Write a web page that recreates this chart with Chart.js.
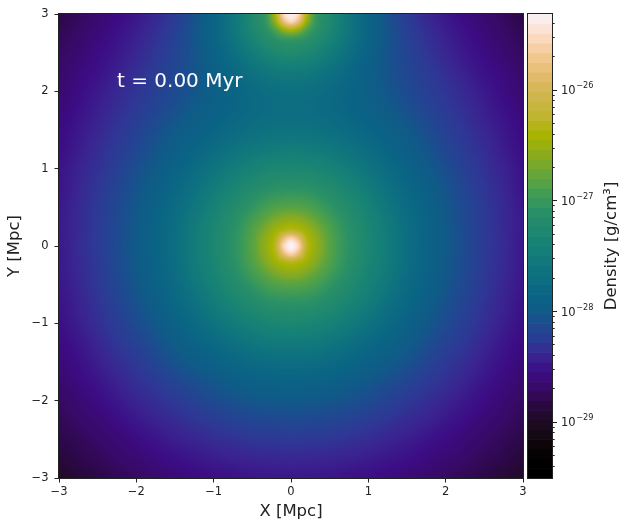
<!DOCTYPE html>
<html>
<head>
<meta charset="utf-8">
<script src="https://cdn.jsdelivr.net/npm/chart.js@4/dist/chart.umd.min.js"></script>
<style>
html,body{margin:0;padding:0;background:#fff;}
#wrap{position:relative;width:632px;height:530px;}
#wrap canvas{position:absolute;left:0;top:0;}
</style>
</head>
<body>
<div id="wrap">
<canvas id="mainChart" width="632" height="530"></canvas>
<canvas id="cbarChart" width="632" height="530"></canvas>
</div>
<script>
// ---------------- data ----------------
// coarse map: log10 density [g/cm^3], rows from y = 3 (top) to y = -3, columns x = -3 .. 3
const xCoords = [-3,-2.75,-2.5,-2.25,-2,-1.75,-1.5,-1.25,-1,-0.75,-0.5,-0.25,0,0.25,0.5,0.75,1,1.25,1.5,1.75,2,2.25,2.5,2.75,3];
const yCoords = [3,2.75,2.5,2.25,2,1.75,1.5,1.25,1,0.75,0.5,0.25,0,-0.25,-0.5,-0.75,-1,-1.25,-1.5,-1.75,-2,-2.25,-2.5,-2.75,-3];
const logDensity = [
[-28.82,-28.74,-28.65,-28.57,-28.48,-28.38,-28.25,-28.08,-27.86,-27.58,-27.23,-26.70,-25.36,-26.70,-27.23,-27.58,-27.86,-28.08,-28.25,-28.38,-28.48,-28.57,-28.65,-28.74,-28.82],
[-28.77,-28.69,-28.61,-28.52,-28.43,-28.33,-28.21,-28.05,-27.86,-27.60,-27.31,-27.03,-26.70,-27.03,-27.31,-27.60,-27.86,-28.05,-28.21,-28.33,-28.43,-28.52,-28.61,-28.69,-28.77],
[-28.72,-28.65,-28.56,-28.48,-28.39,-28.29,-28.18,-28.06,-27.90,-27.70,-27.49,-27.30,-27.21,-27.30,-27.49,-27.70,-27.90,-28.06,-28.18,-28.29,-28.39,-28.48,-28.56,-28.65,-28.72],
[-28.68,-28.59,-28.52,-28.43,-28.34,-28.25,-28.16,-28.06,-27.94,-27.80,-27.66,-27.55,-27.51,-27.55,-27.66,-27.80,-27.94,-28.06,-28.16,-28.25,-28.34,-28.43,-28.52,-28.59,-28.68],
[-28.65,-28.56,-28.47,-28.38,-28.30,-28.22,-28.13,-28.04,-27.94,-27.85,-27.76,-27.70,-27.68,-27.70,-27.76,-27.85,-27.94,-28.04,-28.13,-28.22,-28.30,-28.38,-28.47,-28.56,-28.65],
[-28.61,-28.52,-28.43,-28.34,-28.26,-28.17,-28.08,-27.99,-27.91,-27.84,-27.77,-27.73,-27.72,-27.73,-27.77,-27.84,-27.91,-27.99,-28.08,-28.17,-28.26,-28.34,-28.43,-28.52,-28.61],
[-28.57,-28.48,-28.39,-28.30,-28.21,-28.11,-28.01,-27.92,-27.84,-27.76,-27.70,-27.65,-27.64,-27.65,-27.70,-27.76,-27.84,-27.92,-28.01,-28.11,-28.21,-28.30,-28.39,-28.48,-28.57],
[-28.54,-28.45,-28.35,-28.26,-28.16,-28.05,-27.95,-27.85,-27.74,-27.64,-27.56,-27.50,-27.48,-27.50,-27.56,-27.64,-27.74,-27.85,-27.95,-28.05,-28.16,-28.26,-28.35,-28.45,-28.54],
[-28.51,-28.41,-28.32,-28.22,-28.10,-28.00,-27.88,-27.75,-27.62,-27.49,-27.38,-27.31,-27.29,-27.31,-27.38,-27.49,-27.62,-27.75,-27.88,-28.00,-28.10,-28.22,-28.32,-28.41,-28.51],
[-28.50,-28.39,-28.29,-28.18,-28.06,-27.94,-27.81,-27.66,-27.50,-27.34,-27.21,-27.11,-27.08,-27.11,-27.21,-27.34,-27.50,-27.66,-27.81,-27.94,-28.06,-28.18,-28.29,-28.39,-28.50],
[-28.47,-28.37,-28.27,-28.15,-28.03,-27.90,-27.75,-27.58,-27.39,-27.21,-27.04,-26.88,-26.82,-26.88,-27.04,-27.21,-27.39,-27.58,-27.75,-27.90,-28.03,-28.15,-28.27,-28.37,-28.47],
[-28.46,-28.37,-28.26,-28.14,-28.01,-27.87,-27.71,-27.52,-27.32,-27.12,-26.88,-26.60,-26.40,-26.60,-26.88,-27.12,-27.32,-27.52,-27.71,-27.87,-28.01,-28.14,-28.26,-28.37,-28.46],
[-28.47,-28.36,-28.26,-28.13,-28.00,-27.87,-27.70,-27.50,-27.30,-27.09,-26.82,-26.40,-25.32,-26.40,-26.82,-27.09,-27.30,-27.50,-27.70,-27.87,-28.00,-28.13,-28.26,-28.36,-28.47],
[-28.47,-28.37,-28.27,-28.14,-28.02,-27.88,-27.71,-27.52,-27.33,-27.12,-26.88,-26.60,-26.40,-26.60,-26.88,-27.12,-27.33,-27.52,-27.71,-27.88,-28.02,-28.14,-28.27,-28.37,-28.47],
[-28.48,-28.39,-28.28,-28.16,-28.04,-27.91,-27.76,-27.58,-27.40,-27.22,-27.04,-26.88,-26.82,-26.88,-27.04,-27.22,-27.40,-27.58,-27.76,-27.91,-28.04,-28.16,-28.28,-28.39,-28.48],
[-28.51,-28.41,-28.31,-28.19,-28.08,-27.96,-27.82,-27.67,-27.50,-27.35,-27.22,-27.12,-27.09,-27.12,-27.22,-27.35,-27.50,-27.67,-27.82,-27.96,-28.08,-28.19,-28.31,-28.41,-28.51],
[-28.53,-28.44,-28.34,-28.24,-28.13,-28.02,-27.90,-27.77,-27.64,-27.51,-27.40,-27.33,-27.30,-27.33,-27.40,-27.51,-27.64,-27.77,-27.90,-28.02,-28.13,-28.24,-28.34,-28.44,-28.53],
[-28.57,-28.49,-28.39,-28.29,-28.20,-28.09,-27.98,-27.88,-27.78,-27.68,-27.59,-27.53,-27.51,-27.53,-27.59,-27.68,-27.78,-27.88,-27.98,-28.09,-28.20,-28.29,-28.39,-28.49,-28.57],
[-28.61,-28.53,-28.44,-28.35,-28.27,-28.17,-28.07,-27.99,-27.91,-27.83,-27.77,-27.72,-27.71,-27.72,-27.77,-27.83,-27.91,-27.99,-28.07,-28.17,-28.27,-28.35,-28.44,-28.53,-28.61],
[-28.66,-28.58,-28.50,-28.41,-28.33,-28.26,-28.17,-28.10,-28.03,-27.97,-27.92,-27.89,-27.88,-27.89,-27.92,-27.97,-28.03,-28.10,-28.17,-28.26,-28.33,-28.41,-28.50,-28.58,-28.66],
[-28.71,-28.64,-28.56,-28.48,-28.40,-28.34,-28.27,-28.20,-28.13,-28.08,-28.04,-28.02,-28.01,-28.02,-28.04,-28.08,-28.13,-28.20,-28.27,-28.34,-28.40,-28.48,-28.56,-28.64,-28.71],
[-28.76,-28.69,-28.63,-28.55,-28.48,-28.41,-28.36,-28.30,-28.25,-28.20,-28.17,-28.15,-28.14,-28.15,-28.17,-28.20,-28.25,-28.30,-28.36,-28.41,-28.48,-28.55,-28.63,-28.69,-28.76],
[-28.81,-28.76,-28.69,-28.63,-28.56,-28.50,-28.44,-28.40,-28.35,-28.32,-28.29,-28.28,-28.27,-28.28,-28.29,-28.32,-28.35,-28.40,-28.44,-28.50,-28.56,-28.63,-28.69,-28.76,-28.81],
[-28.88,-28.81,-28.76,-28.69,-28.64,-28.58,-28.53,-28.49,-28.45,-28.42,-28.40,-28.39,-28.38,-28.39,-28.40,-28.42,-28.45,-28.49,-28.53,-28.58,-28.64,-28.69,-28.76,-28.81,-28.88],
[-28.95,-28.89,-28.82,-28.77,-28.72,-28.67,-28.62,-28.58,-28.54,-28.52,-28.49,-28.48,-28.48,-28.48,-28.49,-28.52,-28.54,-28.58,-28.62,-28.67,-28.72,-28.77,-28.82,-28.89,-28.95]
];
// finer maps around the two cluster cores (same units)
const coreXCoords = [-0.5,-0.4,-0.3,-0.2,-0.1,0,0.1,0.2,0.3,0.4,0.5];
const centralCoreYCoords = [0.5,0.4,0.3,0.2,0.1,0,-0.1,-0.2,-0.3,-0.4,-0.5];
const centralCoreLogDensity = [
[-27.05,-26.97,-26.91,-26.86,-26.83,-26.82,-26.83,-26.86,-26.91,-26.97,-27.05],
[-26.97,-26.89,-26.82,-26.73,-26.67,-26.65,-26.67,-26.73,-26.82,-26.89,-26.97],
[-26.91,-26.82,-26.69,-26.59,-26.52,-26.49,-26.52,-26.59,-26.69,-26.82,-26.91],
[-26.86,-26.73,-26.59,-26.46,-26.33,-26.25,-26.33,-26.46,-26.59,-26.73,-26.86],
[-26.83,-26.67,-26.52,-26.33,-25.85,-25.58,-25.85,-26.33,-26.52,-26.67,-26.83],
[-26.82,-26.65,-26.49,-26.25,-25.58,-25.32,-25.58,-26.25,-26.49,-26.65,-26.82],
[-26.83,-26.67,-26.52,-26.33,-25.85,-25.58,-25.85,-26.33,-26.52,-26.67,-26.83],
[-26.86,-26.73,-26.59,-26.46,-26.33,-26.25,-26.33,-26.46,-26.59,-26.73,-26.86],
[-26.91,-26.82,-26.69,-26.59,-26.52,-26.49,-26.52,-26.59,-26.69,-26.82,-26.91],
[-26.97,-26.89,-26.82,-26.73,-26.67,-26.65,-26.67,-26.73,-26.82,-26.89,-26.97],
[-27.05,-26.97,-26.91,-26.86,-26.83,-26.82,-26.83,-26.86,-26.91,-26.97,-27.05]
];
const topCoreYCoords = [3,2.9,2.8,2.7,2.6,2.5];
const topCoreLogDensity = [
[-27.23,-27.12,-26.92,-26.35,-25.55,-25.36,-25.55,-26.35,-26.92,-27.12,-27.23],
[-27.25,-27.14,-26.96,-26.52,-25.85,-25.55,-25.85,-26.52,-26.96,-27.14,-27.25],
[-27.29,-27.19,-27.05,-26.85,-26.52,-26.35,-26.52,-26.85,-27.05,-27.19,-27.29],
[-27.35,-27.23,-27.16,-27.05,-26.96,-26.92,-26.96,-27.05,-27.16,-27.23,-27.35],
[-27.43,-27.32,-27.23,-27.19,-27.14,-27.12,-27.14,-27.19,-27.23,-27.32,-27.43],
[-27.50,-27.43,-27.35,-27.29,-27.25,-27.23,-27.25,-27.29,-27.35,-27.43,-27.50]
];
const axisTicks = [-3,-2,-1,0,1,2,3];
const colorbarRange = [-29.509, -25.316];          // log10 density at bottom / top of colorbar
const colorbarMajorTicks = [-29,-28,-27,-26];
const colorbarTickBase = '10';
const colorbarTickExponents = ['\u221229','\u221228','\u221227','\u221226'];
const xTitle = 'X [Mpc]';
const yTitle = 'Y [Mpc]';
const colorbarTitle = 'Density [g/cm\u00b3]';
const timeLabel = 't = 0.00 Myr';
const timeLabelAt = [-2.25, 2.05];

// ---------------- style ----------------
const FONT = 'DejaVu Sans';
const INK = '#222222';
const colormapStops = [
 [-29.51,'#000000'],[-29.33,'#000000'],[-29.21,'#0c0508'],[-29.09,'#180a18'],[-28.97,'#200a26'],
 [-28.82,'#2c0848'],[-28.69,'#380a68'],[-28.55,'#3c0c84'],[-28.40,'#3a2490'],[-28.28,'#2e3895'],
 [-28.13,'#1e4a90'],[-28.01,'#105a88'],[-27.86,'#0a6485'],[-27.67,'#0e7080'],[-27.39,'#168276'],
 [-27.09,'#2a9066'],[-26.97,'#3c9a58'],[-26.79,'#5ea43e'],[-26.61,'#86aa22'],[-26.41,'#a8b400'],
 [-26.23,'#c0b530'],[-26.07,'#ceb64a'],[-25.93,'#dcb862'],[-25.80,'#eac07a'],[-25.69,'#f2c890'],
 [-25.59,'#f8d2ae'],[-25.49,'#fddecb'],[-25.41,'#fce8e2'],[-25.316,'#f7f4f7']
];
const NBANDS = 48;

function hexToRgb(h){return [parseInt(h.slice(1,3),16),parseInt(h.slice(3,5),16),parseInt(h.slice(5,7),16)];}
const stopsRgb = colormapStops.map(s => [s[0], hexToRgb(s[1])]);
function cmap(v){
  if (v <= stopsRgb[0][0]) return stopsRgb[0][1];
  for (let k=1;k<stopsRgb.length;k++){
    if (v <= stopsRgb[k][0]){
      const v0=stopsRgb[k-1][0], c0=stopsRgb[k-1][1], v1=stopsRgb[k][0], c1=stopsRgb[k][1];
      const t=(v-v0)/(v1-v0);
      return c0.map((c,i)=>Math.round(c+(c1[i]-c)*t));
    }
  }
  return stopsRgb[stopsRgb.length-1][1];
}
const vmin = colorbarRange[0], vmax = colorbarRange[1];
const bandStep = (vmax-vmin)/NBANDS;
const bandColors = Array.from({length:NBANDS},(_,k)=>cmap(vmin+(k+0.5)*bandStep));
function fmtTick(v){return v<0?'\u2212'+(-v):String(v);}

// Catmull-Rom (bicubic) rendering of a regular map
function cr(p0,p1,p2,p3,t){return p1+0.5*t*(p2-p0+t*(2*p0-5*p1+4*p2-p3+t*(3*(p1-p2)+p3-p0)));}
function sampleMap(grid, xc, yc, xv, yv){
  const nx=xc.length, ny=yc.length;
  const gx=(xv-xc[0])/(xc[1]-xc[0]), gy=(yv-yc[0])/(yc[1]-yc[0]);
  const i1=Math.max(0,Math.min(nx-2,Math.floor(gx))), j1=Math.max(0,Math.min(ny-2,Math.floor(gy)));
  const tx=Math.max(0,Math.min(1,gx-i1)), ty=Math.max(0,Math.min(1,gy-j1));
  const ci=k=>Math.max(0,Math.min(nx-1,k)), cj=k=>Math.max(0,Math.min(ny-1,k));
  const col=[];
  for (let m=-1;m<=2;m++){
    const r=grid[cj(j1+m)];
    col.push(cr(r[ci(i1-1)],r[i1],r[i1+1],r[ci(i1+2)],tx));
  }
  return cr(col[0],col[1],col[2],col[3],ty);
}
function fieldAt(xv, yv){
  let v = sampleMap(logDensity, xCoords, yCoords, xv, yv);
  const ax = Math.abs(xv);
  if (ax <= 0.5 && Math.abs(yv) <= 0.5){
    const w = Math.max(0,Math.min(1,(0.5-Math.max(ax,Math.abs(yv)))/0.1));
    const f = sampleMap(centralCoreLogDensity, coreXCoords, centralCoreYCoords, xv, yv);
    v = v*(1-w) + f*w;
  } else if (ax <= 0.5 && yv >= 2.5){
    const w = Math.max(0,Math.min(1,Math.min(0.5-ax, yv-2.5)/0.1));
    const f = sampleMap(topCoreLogDensity, coreXCoords, topCoreYCoords, xv, yv);
    v = v*(1-w) + f*w;
  }
  return v;
}

// ---------------- density map plugin ----------------
const densityMapPlugin = {
  id:'densityMap',
  beforeDatasetsDraw(chart){
    const {ctx, chartArea:a, scales} = chart;
    const xs = scales.x, ys = scales.y;
    const dpr = chart.currentDevicePixelRatio || 1;
    const W = Math.round((a.right-a.left)*dpr), H = Math.round((a.bottom-a.top)*dpr);
    const off = document.createElement('canvas'); off.width=W; off.height=H;
    const octx = off.getContext('2d');
    const img = octx.createImageData(W,H);
    for (let py=0; py<H; py++){
      const yv = ys.getValueForPixel(a.top+(py+0.5)/dpr);
      for (let px=0; px<W; px++){
        const xv = xs.getValueForPixel(a.left+(px+0.5)/dpr);
        const c = cmap(Math.max(vmin, Math.min(vmax, fieldAt(xv,yv))));
        const p = (py*W+px)*4;
        img.data[p]=c[0]; img.data[p+1]=c[1]; img.data[p+2]=c[2]; img.data[p+3]=255;
      }
    }
    octx.putImageData(img,0,0);
    ctx.save();
    ctx.drawImage(off, a.left, a.top, a.right-a.left, a.bottom-a.top);
    ctx.restore();
  },
  afterDraw(chart){
    const {ctx, chartArea:a, scales} = chart;
    ctx.save();
    ctx.strokeStyle = INK; ctx.lineWidth = 1;
    ctx.strokeRect(a.left-0.5, a.top-0.5, a.right-a.left+1, a.bottom-a.top+1);
    ctx.fillStyle = '#ffffff';
    ctx.font = '20px "' + FONT + '"';
    ctx.textAlign = 'left'; ctx.textBaseline = 'alphabetic';
    ctx.fillText(timeLabel, scales.x.getPixelForValue(timeLabelAt[0]), scales.y.getPixelForValue(timeLabelAt[1]));
    ctx.restore();
  }
};

const gridPoints = [];
yCoords.forEach((yv,j)=>xCoords.forEach((xv,i)=>gridPoints.push({x:xv,y:yv,v:logDensity[j][i]})));

const axisCommon = {
  type:'linear', min:-3, max:3,
  grid:{drawOnChartArea:false, drawTicks:true, tickLength:4.5, color:INK, tickWidth:1},
  border:{display:false},
};

new Chart(document.getElementById('mainChart'), {
  type:'scatter',
  data:{datasets:[{label:'log10 density', data:gridPoints, pointRadius:0, pointHoverRadius:0}]},
  options:{
    responsive:false, animation:false, events:[],
    layout:{padding:{left:0, top:14, right:109, bottom:0}},
    plugins:{legend:{display:false}, tooltip:{enabled:false}},
    scales:{
      x:Object.assign({}, axisCommon, {
        position:'bottom',
        afterBuildTicks:s=>{s.ticks = axisTicks.map(v=>({value:v}));},
        ticks:{callback:fmtTick, color:INK, font:{family:FONT, size:11.5}, padding:3, maxRotation:0, autoSkip:false},
        title:{display:true, text:xTitle, color:INK, font:{family:FONT, size:16.5}, padding:{top:0, bottom:8}},
        afterFit:s=>{s.height = 52;}
      }),
      y:Object.assign({}, axisCommon, {
        position:'left',
        afterBuildTicks:s=>{s.ticks = axisTicks.map(v=>({value:v}));},
        ticks:{callback:fmtTick, color:INK, font:{family:FONT, size:11.5}, padding:6, autoSkip:false},
        title:{display:true, text:yTitle, color:INK, font:{family:FONT, size:16.5}, padding:{top:5, bottom:0}},
        afterFit:s=>{s.width = 59;}
      })
    }
  },
  plugins:[densityMapPlugin]
});

// ---------------- colorbar ----------------
const colorbarPlugin = {
  id:'colorbar',
  afterDraw(chart){
    const {ctx, chartArea:a, scales} = chart;
    const s = scales.y;
    ctx.save();
    for (let k=0;k<NBANDS;k++){
      const y0 = s.getPixelForValue(vmin+k*bandStep), y1 = s.getPixelForValue(vmin+(k+1)*bandStep);
      const c = bandColors[k];
      ctx.fillStyle = 'rgb('+c[0]+','+c[1]+','+c[2]+')';
      ctx.fillRect(a.left, y1, a.right-a.left, (y0-y1)+0.6);
    }
    ctx.strokeStyle = INK; ctx.lineWidth = 1;
    ctx.strokeRect(a.left-0.5, a.top-0.5, a.right-a.left+1, a.bottom-a.top+1);
    ctx.beginPath();
    for (let n=-30;n<=-26;n++){
      for (let m=2;m<=9;m++){
        const v = n+Math.log10(m);
        if (v>vmin && v<vmax){
          const y = Math.round(s.getPixelForValue(v))+0.5;
          ctx.moveTo(a.right, y); ctx.lineTo(a.right+2.7, y);
        }
      }
    }
    colorbarMajorTicks.forEach(v=>{
      const y = Math.round(s.getPixelForValue(v))+0.5;
      ctx.moveTo(a.right, y); ctx.lineTo(a.right+5, y);
    });
    ctx.stroke();
    ctx.fillStyle = INK;
    ctx.textAlign = 'left'; ctx.textBaseline = 'alphabetic';
    colorbarMajorTicks.forEach((v,k)=>{
      const y = s.getPixelForValue(v);
      const x0 = a.right + 9;
      ctx.font = '11.5px "' + FONT + '"';
      ctx.fillText(colorbarTickBase, x0, y+4.5);
      const w = ctx.measureText(colorbarTickBase).width;
      ctx.font = '8.2px "' + FONT + '"';
      ctx.fillText(colorbarTickExponents[k], x0+w+0.5, y-1.5);
    });
    ctx.translate(616, (a.top+a.bottom)/2);
    ctx.rotate(-Math.PI/2);
    ctx.font = '16.5px "' + FONT + '"';
    ctx.textAlign = 'center'; ctx.textBaseline = 'alphabetic';
    ctx.fillText(colorbarTitle, 0, 0);
    ctx.restore();
  }
};

new Chart(document.getElementById('cbarChart'), {
  type:'scatter',
  data:{datasets:[]},
  options:{
    responsive:false, animation:false, events:[],
    layout:{padding:{left:528, top:14, right:0, bottom:52}},
    plugins:{legend:{display:false}, tooltip:{enabled:false}},
    scales:{
      x:{type:'linear', display:false, min:0, max:1},
      y:{type:'linear', position:'right', min:vmin, max:vmax,
         afterBuildTicks:s=>{s.ticks = colorbarMajorTicks.map(v=>({value:v}));},
         ticks:{display:false}, grid:{display:false}, border:{display:false},
         afterFit:s=>{s.width = 80;}}
    }
  },
  plugins:[colorbarPlugin]
});
</script>
</body>
</html>
